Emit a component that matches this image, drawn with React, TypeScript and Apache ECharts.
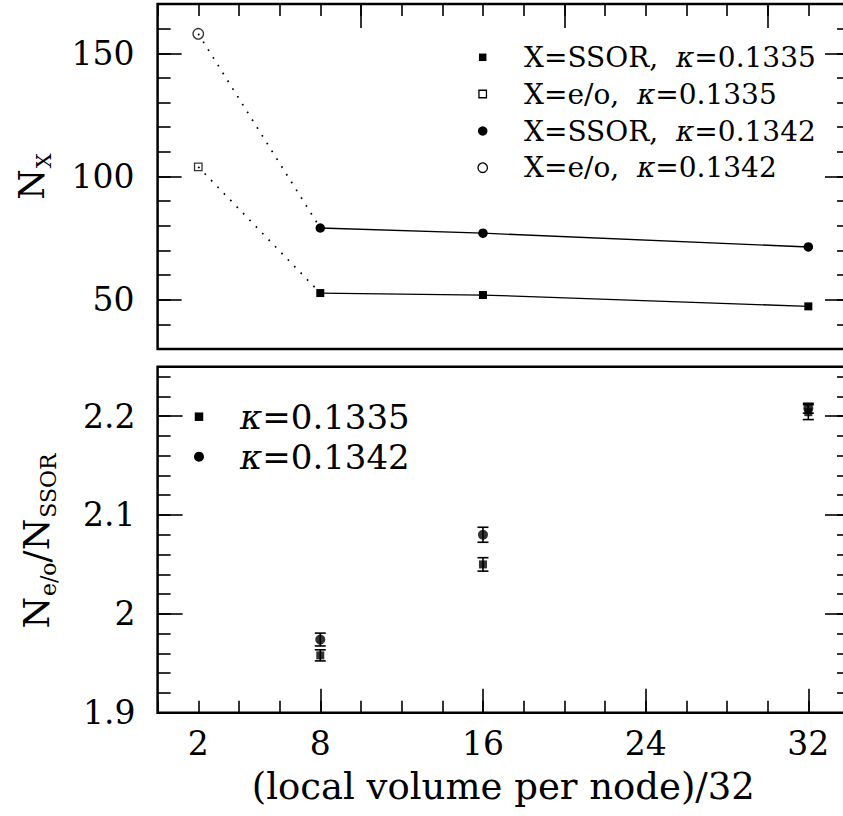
import React, { useEffect, useRef } from 'react';
import * as echarts from 'echarts';

// ---------- data ----------
const xSSOR = [8, 16, 32];
const nSSOR1335 = [52.7, 51.9, 47.3];
const nSSOR1342 = [79.1, 77.0, 71.4];
const xEO = [2];
const nEO1335 = [103.9];
const nEO1342 = [157.9];

const xRatio = [8, 16, 32];
const ratio1335 = [1.958, 2.05, 2.204];
const err1335 = [0.0056, 0.0068, 0.0075];
const ratio1342 = [1.974, 2.08, 2.208];
const err1342 = [0.0065, 0.0076, 0.005];

const topMajorTicks = [10, 20, 30];
const bottomMajorTicks = [8, 16, 24, 32];
const bottomXLabels = [2, 8, 16, 24, 32];
const topYLabels = [50, 100, 150];
const ratioMajorTicks = [2.0, 2.1, 2.2];
const ratioYLabels = [1.9, 2.0, 2.1, 2.2];

const legendTop = [
  { key: 'X=SSOR,\u00a0\u00a0', kappa: '0.1335', symbol: 'rect', filled: true },
  { key: 'X=e/o,\u00a0\u00a0', kappa: '0.1335', symbol: 'rect', filled: false },
  { key: 'X=SSOR,\u00a0\u00a0', kappa: '0.1342', symbol: 'circle', filled: true },
  { key: 'X=e/o,\u00a0\u00a0', kappa: '0.1342', symbol: 'circle', filled: false },
];
const legendBottom = [
  { kappa: '0.1335', symbol: 'rect' },
  { kappa: '0.1342', symbol: 'circle' },
];

const FONT = 'DejaVu Serif';

function tickAxis(opts: any) {
  const { gridIndex, position, min, max, interval, customTicks, length, labels, labelSize, labelMargin, name } = opts;
  const axis: any = {
    type: 'value',
    gridIndex,
    position,
    min,
    max,
    axisLine: { show: false },
    splitLine: { show: false },
    axisTick: {
      show: true,
      inside: true,
      length,
      lineStyle: { color: '#000', width: 1.6 },
    },
    axisLabel: { show: false },
  };
  if (interval !== undefined) axis.interval = interval;
  if (customTicks) axis.axisTick.customValues = customTicks;
  if (labels) {
    axis.axisLabel = {
      show: true,
      customValues: labels,
      color: '#000',
      fontFamily: FONT,
      fontSize: labelSize,
      margin: labelMargin,
    };
  }
  if (name) Object.assign(axis, name);
  return axis;
}

function errorBarRender(params: any, api: any) {
  const x = api.value(0);
  const y = api.value(1);
  const e = api.value(2);
  const top = api.coord([x, y + e]);
  const bot = api.coord([x, y - e]);
  const hw = 5.5;
  const st = { stroke: '#000', lineWidth: 1.6 };
  return {
    type: 'group',
    children: [
      { type: 'line', shape: { x1: top[0], y1: top[1], x2: bot[0], y2: bot[1] }, style: st },
      { type: 'line', shape: { x1: top[0] - hw, y1: top[1], x2: top[0] + hw, y2: top[1] }, style: st },
      { type: 'line', shape: { x1: bot[0] - hw, y1: bot[1], x2: bot[0] + hw, y2: bot[1] }, style: st },
    ],
  };
}

function marker(symbol: string, filled: boolean, cx: number, cy: number, size: number) {
  const style = filled
    ? { fill: '#000', stroke: '#000', lineWidth: 0 }
    : { fill: '#fff', stroke: '#000', lineWidth: 1.3 };
  if (symbol === 'rect') {
    return { type: 'rect', shape: { x: cx - size / 2, y: cy - size / 2, width: size, height: size }, style };
  }
  return { type: 'circle', shape: { cx, cy, r: size / 2 }, style };
}

export default function App() {
  const ref = useRef<HTMLDivElement>(null);

  useEffect(() => {
    if (!ref.current) return;
    const chart = echarts.init(ref.current, undefined, { renderer: 'svg' });

    const gridLeft = 157.6;
    const gridWidth = 691.4;

    const graphic: any[] = [];
    // top legend
    const topRows = [57.3, 94, 131, 167.7];
    legendTop.forEach((it, i) => {
      graphic.push(marker(it.symbol, it.filled, 482.7, topRows[i], it.symbol === 'rect' ? 7.5 : 9.5));
      graphic.push({
        type: 'text',
        x: 524,
        y: topRows[i],
        style: {
          text: it.key + '{i|κ}=' + it.kappa,
          fontFamily: FONT,
          fontSize: 28,
          fill: '#000',
          verticalAlign: 'middle',
          align: 'left',
          rich: { i: { fontStyle: 'italic', fontFamily: FONT, fontSize: 28, fill: '#000' } },
        },
      });
    });
    // bottom legend
    const botRows = [416.7, 456.7];
    legendBottom.forEach((it, i) => {
      graphic.push(marker(it.symbol, true, 199, botRows[i], it.symbol === 'rect' ? 8.5 : 10));
      graphic.push({
        type: 'text',
        x: 240,
        y: botRows[i],
        style: {
          text: '{i|κ}=' + it.kappa,
          fontFamily: FONT,
          fontSize: 34,
          fill: '#000',
          verticalAlign: 'middle',
          align: 'left',
          rich: { i: { fontStyle: 'italic', fontFamily: FONT, fontSize: 34, fill: '#000' } },
        },
      });
    });
    // y axis titles
    graphic.push({
      type: 'text',
      x: 32,
      y: 176.5,
      rotation: Math.PI / 2,
      style: {
        text: '{n|N}{s|X}',
        align: 'center',
        verticalAlign: 'middle',
        fill: '#000',
        rich: {
          n: { fontFamily: FONT, fontSize: 35, fill: '#000' },
          s: { fontFamily: FONT, fontSize: 21, fill: '#000', verticalAlign: 'top', padding: [23, 0, 0, 1] },
        },
      },
    });
    graphic.push({
      type: 'text',
      x: 36,
      y: 541,
      rotation: Math.PI / 2,
      style: {
        text: '{n|N}{s|e/o}{n|/N}{s|SSOR}',
        align: 'center',
        verticalAlign: 'middle',
        fill: '#000',
        rich: {
          n: { fontFamily: FONT, fontSize: 36, fill: '#000' },
          s: { fontFamily: FONT, fontSize: 22, fill: '#000', verticalAlign: 'top', padding: [24, 0, 0, 1] },
        },
      },
    });

    const option: any = {
      animation: false,
      backgroundColor: '#fff',
      textStyle: { fontFamily: FONT },
      grid: [
        {
          left: gridLeft, top: 4, width: gridWidth, height: 345,
          show: true, borderColor: '#000', borderWidth: 2.5, backgroundColor: 'transparent',
          containLabel: false, outerBoundsMode: 'none',
        },
        {
          left: gridLeft, top: 366.7, width: gridWidth, height: 346,
          show: true, borderColor: '#000', borderWidth: 2.5, backgroundColor: 'transparent',
          containLabel: false, outerBoundsMode: 'none',
        },
      ],
      xAxis: [
        tickAxis({ gridIndex: 0, position: 'top', min: 0, max: 34, interval: 2, length: 12 }),
        tickAxis({ gridIndex: 0, position: 'top', min: 0, max: 34, customTicks: topMajorTicks, length: 24 }),
        tickAxis({ gridIndex: 1, position: 'bottom', min: 0, max: 34, interval: 2, length: 12 }),
        tickAxis({
          gridIndex: 1, position: 'bottom', min: 0, max: 34, customTicks: bottomMajorTicks, length: 24,
          labels: bottomXLabels, labelSize: 33, labelMargin: 14,
          name: {
            name: '(local volume per node)/32',
            nameLocation: 'middle',
            nameGap: 55,
            nameTextStyle: { fontFamily: FONT, fontSize: 37, color: '#000' },
          },
        }),
      ],
      yAxis: [
        tickAxis({ gridIndex: 0, position: 'left', min: 30, max: 170, interval: 10, length: 13 }),
        tickAxis({ gridIndex: 0, position: 'left', min: 30, max: 170, customTicks: topYLabels, length: 24, labels: topYLabels, labelSize: 33, labelMargin: 23 }),
        tickAxis({ gridIndex: 0, position: 'right', min: 30, max: 170, interval: 10, length: 12 }),
        tickAxis({ gridIndex: 0, position: 'right', min: 30, max: 170, customTicks: topYLabels, length: 24 }),
        tickAxis({ gridIndex: 1, position: 'left', min: 1.9, max: 2.25, interval: 0.02, length: 13 }),
        tickAxis({ gridIndex: 1, position: 'left', min: 1.9, max: 2.25, customTicks: ratioMajorTicks, length: 25, labels: ratioYLabels, labelSize: 33, labelMargin: 22 }),
        tickAxis({ gridIndex: 1, position: 'right', min: 1.9, max: 2.25, interval: 0.02, length: 12 }),
        tickAxis({ gridIndex: 1, position: 'right', min: 1.9, max: 2.25, customTicks: ratioMajorTicks, length: 24 }),
      ],
      graphic,
      series: [
        {
          type: 'line', name: 'link 0.1335', xAxisIndex: 0, yAxisIndex: 0, symbol: 'none',
          data: [[xEO[0], nEO1335[0]], [xSSOR[0], nSSOR1335[0]]],
          lineStyle: { color: '#000', width: 1.7, type: [1.7, 7.5] },
        },
        {
          type: 'line', name: 'link 0.1342', xAxisIndex: 0, yAxisIndex: 0, symbol: 'none',
          data: [[xEO[0], nEO1342[0]], [xSSOR[0], nSSOR1342[0]]],
          lineStyle: { color: '#000', width: 1.7, type: [1.7, 7.5] },
        },
        {
          type: 'line', name: 'X=SSOR, κ=0.1335', xAxisIndex: 0, yAxisIndex: 0,
          data: xSSOR.map((x, i) => [x, nSSOR1335[i]]),
          symbol: 'rect', symbolSize: 8,
          itemStyle: { color: '#000' },
          lineStyle: { color: '#000', width: 1.3 },
        },
        {
          type: 'line', name: 'X=SSOR, κ=0.1342', xAxisIndex: 0, yAxisIndex: 0,
          data: xSSOR.map((x, i) => [x, nSSOR1342[i]]),
          symbol: 'circle', symbolSize: 9.5,
          itemStyle: { color: '#000' },
          lineStyle: { color: '#000', width: 1.3 },
        },
        {
          type: 'scatter', name: 'X=e/o, κ=0.1335', xAxisIndex: 0, yAxisIndex: 0,
          data: xEO.map((x, i) => [x, nEO1335[i]]),
          symbol: 'rect', symbolSize: 7.5,
          itemStyle: { color: '#fff', borderColor: '#000', borderWidth: 1.3 },
        },
        {
          type: 'scatter', name: 'X=e/o, κ=0.1342', xAxisIndex: 0, yAxisIndex: 0,
          data: xEO.map((x, i) => [x, nEO1342[i]]),
          symbol: 'circle', symbolSize: 10.5,
          itemStyle: { color: '#fff', borderColor: '#000', borderWidth: 1.3 },
        },
        {
          type: 'custom', name: 'err 0.1335', xAxisIndex: 2, yAxisIndex: 4,
          renderItem: errorBarRender,
          encode: { x: 0, y: 1 },
          data: xRatio.map((x, i) => [x, ratio1335[i], err1335[i]]),
        },
        {
          type: 'custom', name: 'err 0.1342', xAxisIndex: 2, yAxisIndex: 4,
          renderItem: errorBarRender,
          encode: { x: 0, y: 1 },
          data: xRatio.map((x, i) => [x, ratio1342[i], err1342[i]]),
        },
        {
          type: 'scatter', name: 'κ=0.1335', xAxisIndex: 2, yAxisIndex: 4,
          data: xRatio.map((x, i) => [x, ratio1335[i]]),
          symbol: 'rect', symbolSize: 8, itemStyle: { color: '#000' },
        },
        {
          type: 'scatter', name: 'κ=0.1342', xAxisIndex: 2, yAxisIndex: 4,
          data: xRatio.map((x, i) => [x, ratio1342[i]]),
          symbol: 'circle', symbolSize: 10, itemStyle: { color: '#000' },
        },
      ],
    };

    chart.setOption(option);
    return () => chart.dispose();
  }, []);

  return (
    <div
      style={{ position: 'absolute', left: 0, top: 0, width: 843, height: 816, overflow: 'hidden', background: '#fff' }}
    >
      <div ref={ref} style={{ position: 'absolute', left: 0, top: 0, width: 880, height: 816 }} />
    </div>
  );
}
